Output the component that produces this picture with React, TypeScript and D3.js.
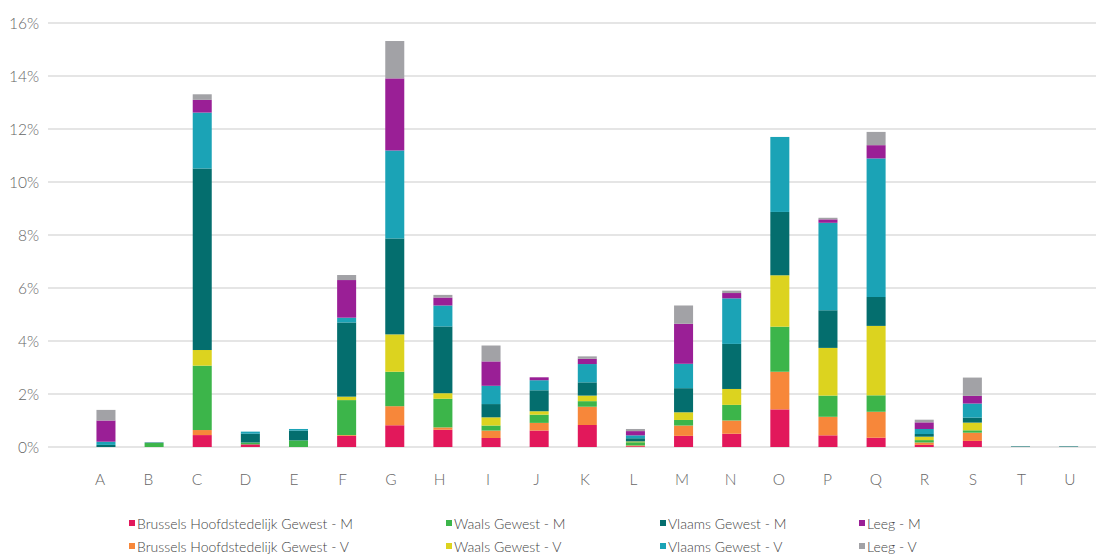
import React from "react";
import * as d3 from "d3";

const categories = ["A","B","C","D","E","F","G","H","I","J","K","L","M","N","O","P","Q","R","S","T","U"];

const seriesNames = [
  "Brussels Hoofdstedelijk Gewest - M",
  "Brussels Hoofdstedelijk Gewest - V",
  "Waals Gewest - M",
  "Waals Gewest - V",
  "Vlaams Gewest - M",
  "Vlaams Gewest - V",
  "Leeg - M",
  "Leeg - V",
];

const seriesColors = ["#e2185b", "#f7873a", "#3cb54a", "#dcd31f", "#046e6e", "#1ba3b6", "#9a1f96", "#a2a2a6"];

//                        A     B     C     D     E     F     G     H     I     J     K     L     M     N     O     P     Q     R     S     T     U
const brusselsM = [0, 0, 0.45, 0.1, 0, 0.42, 0.82, 0.65, 0.34, 0.62, 0.83, 0.03, 0.42, 0.5, 1.42, 0.44, 0.35, 0.08, 0.23, 0, 0];
const brusselsV = [0, 0, 0.19, 0, 0, 0.03, 0.72, 0.09, 0.28, 0.29, 0.69, 0.03, 0.39, 0.5, 1.42, 0.7, 0.98, 0.09, 0.31, 0, 0];
const waalsM = [0, 0.15, 2.43, 0.07, 0.25, 1.32, 1.3, 1.08, 0.19, 0.31, 0.21, 0.12, 0.21, 0.59, 1.7, 0.8, 0.62, 0.09, 0.09, 0, 0];
const waalsV = [0, 0, 0.59, 0, 0, 0.13, 1.41, 0.21, 0.31, 0.13, 0.21, 0.03, 0.29, 0.6, 1.94, 1.8, 2.62, 0.13, 0.29, 0, 0];
const vlaamsM = [0.08, 0.02, 6.85, 0.33, 0.37, 2.8, 3.62, 2.52, 0.5, 0.79, 0.5, 0.12, 0.91, 1.7, 2.39, 1.42, 1.09, 0.1, 0.19, 0.02, 0.02];
const vlaamsV = [0.12, 0, 2.11, 0.08, 0.06, 0.18, 3.32, 0.79, 0.69, 0.38, 0.69, 0.11, 0.92, 1.72, 2.83, 3.3, 5.23, 0.19, 0.53, 0, 0];
const leegM = [0.8, 0, 0.48, 0, 0, 1.42, 2.72, 0.3, 0.92, 0.11, 0.2, 0.16, 1.51, 0.2, 0, 0.13, 0.5, 0.25, 0.29, 0, 0];
const leegV = [0.4, 0, 0.21, 0, 0, 0.19, 1.41, 0.1, 0.6, 0, 0.09, 0.08, 0.69, 0.09, 0, 0.06, 0.5, 0.1, 0.69, 0, 0];

const yTicks = [0, 2, 4, 6, 8, 10, 12, 14, 16];

const allSeries = [brusselsM, brusselsV, waalsM, waalsV, vlaamsM, vlaamsV, leegM, leegV];

const FONT = "Lato, 'Open Sans', sans-serif";

export default function App() {
  const W = 1096, H = 554;
  const rows = categories.map((c, i) => {
    const r: any = { cat: c };
    seriesNames.forEach((s, k) => (r[s] = allSeries[k][i]));
    return r;
  });
  const stacked = d3.stack<any>().keys(seriesNames)(rows);

  const y = d3.scaleLinear().domain([0, 16]).range([447, 23]);
  const xBar = d3.scaleBand<string>().domain(categories).range([81.9, 1092.7]).paddingInner(0.605).paddingOuter(0.3025);
  const xLab = d3.scalePoint<string>().domain(categories).range([100, 1070]);

  const legendCols = [129, 446, 660, 859];
  const legendRows = [523, 546];

  return (
    <svg width={W} height={H} style={{ position: "absolute", left: 0, top: 0, background: "#fff" }}>
      <g>
        {yTicks.map((t) => (
          <g key={t}>
            <line x1={48} x2={1096} y1={y(t)} y2={y(t)} stroke="#cbcbcb" strokeWidth={1.2} />
            <text x={39} y={y(t)} textAnchor="end" dominantBaseline="central" fontFamily={FONT} fontWeight={300} fontSize={15.5} fill="#666">
              {t}%
            </text>
          </g>
        ))}
      </g>
      <g>
        {stacked.map((layer, k) => (
          <g key={k} fill={seriesColors[k]}>
            {layer.map((d, i) => {
              const h = y(d[0]) - y(d[1]);
              if (h <= 0) return null;
              return <rect key={i} x={xBar(categories[i])!} width={xBar.bandwidth()} y={y(d[1])} height={h} />;
            })}
          </g>
        ))}
      </g>
      <g>
        {categories.map((c) => (
          <text key={c} x={xLab(c)!} y={479} textAnchor="middle" dominantBaseline="central" fontFamily={FONT} fontWeight={300} fontSize={15.5} fill="#666">
            {c}
          </text>
        ))}
      </g>
      <g>
        {seriesNames.map((s, k) => {
          const col = Math.floor(k / 2);
          const row = k % 2;
          const lx = legendCols[col];
          const ly = legendRows[row];
          return (
            <g key={s}>
              <rect x={lx} y={ly - 3} width={6} height={6} fill={seriesColors[k]} />
              <text x={lx + 8} y={ly} dominantBaseline="central" fontFamily={FONT} fontWeight={300} fontSize={14} fill="#444">
                {s}
              </text>
            </g>
          );
        })}
      </g>
    </svg>
  );
}
